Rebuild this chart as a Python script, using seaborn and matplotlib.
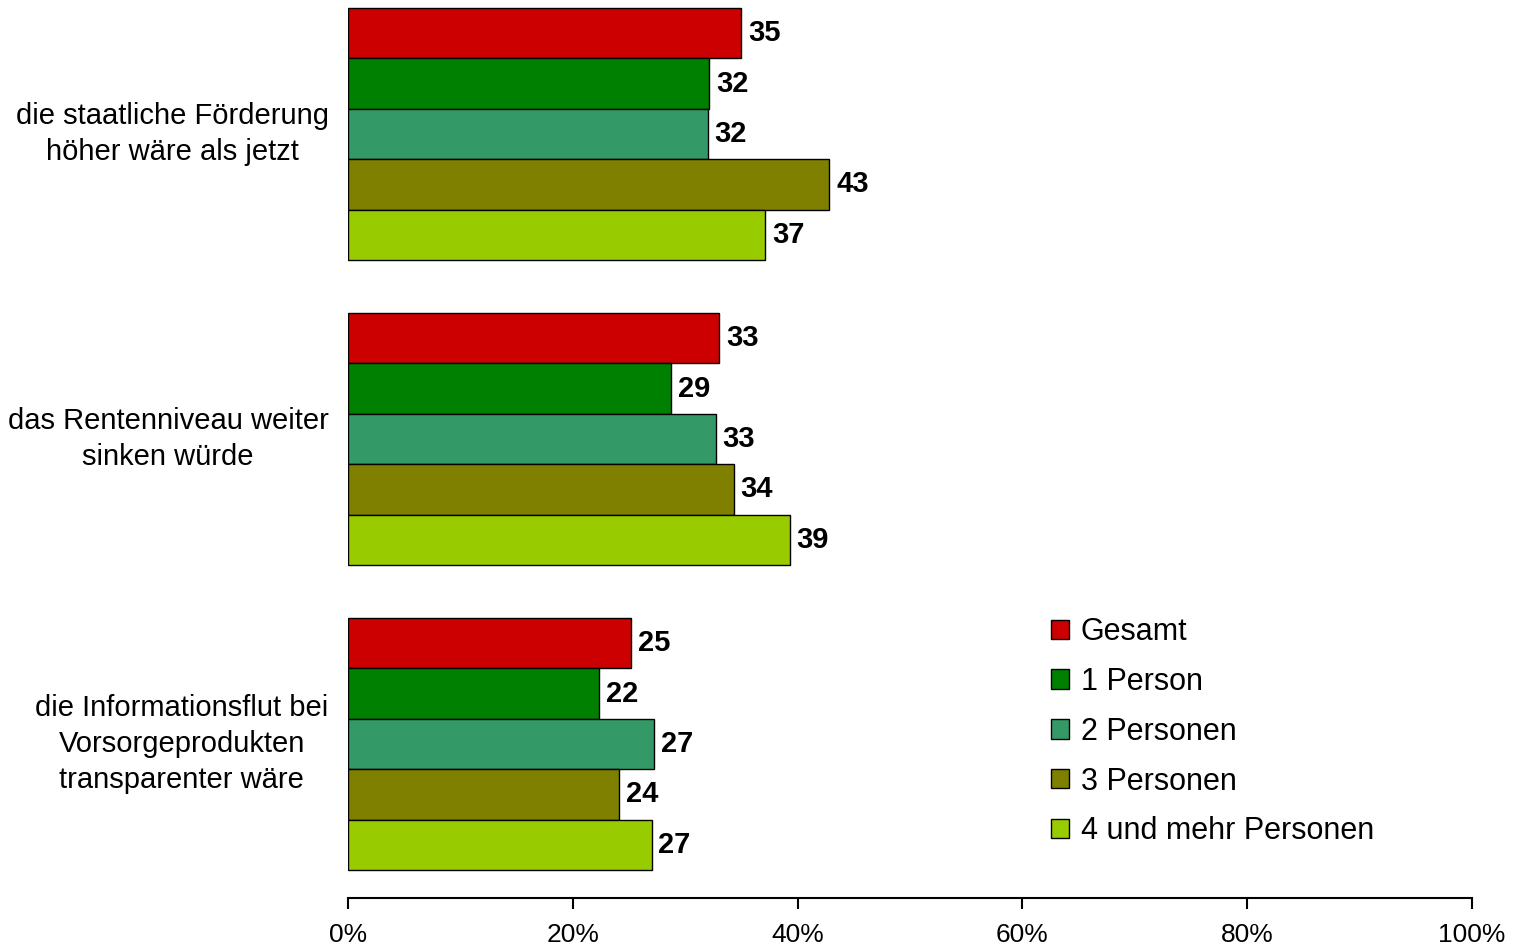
import numpy as np
import pandas as pd
import seaborn as sns
import matplotlib
matplotlib.use("Agg")
import matplotlib.pyplot as plt

# data (bar lengths in %)
categories = ["die staatliche Förderung\nhöher wäre als jetzt",
              "das Rentenniveau weiter\nsinken würde",
              "die Informationsflut bei\nVorsorgeprodukten\ntransparenter wäre"]
groups = ["Gesamt", "1 Person", "2 Personen", "3 Personen", "4 und mehr Personen"]
gesamt = [35.0, 33.0, 25.2]
person1 = [32.1, 28.7, 22.3]
person2 = [32.0, 32.7, 27.2]
person3 = [42.8, 34.3, 24.1]
person4 = [37.1, 39.3, 27.0]
colors = ["#CC0000", "#008000", "#339966", "#808000", "#99CC00"]
xticks = [0, 20, 40, 60, 80, 100]

rows = []
for g, vals in zip(groups, [gesamt, person1, person2, person3, person4]):
    for c, v in zip(categories, vals):
        rows.append({"cat": c, "grp": g, "val": v})
df = pd.DataFrame(rows)

sns.set_style("white")
plt.rcParams["font.family"] = ["Liberation Sans", "DejaVu Sans"]
plt.rcParams["text.color"] = "black"
plt.rcParams["xtick.color"] = "black"
plt.rcParams["ytick.color"] = "black"

fig = plt.figure(figsize=(15.13, 9.49), dpi=100)
ax = fig.add_axes([0.230, 0.0537, 0.743, 0.9463])

sns.barplot(data=df, y="cat", x="val", hue="grp", order=categories, hue_order=groups,
            palette=colors, orient="h", width=0.826, edgecolor="black", linewidth=1,
            saturation=1, ax=ax)

for cont in ax.containers:
    ax.bar_label(cont, labels=[f"{v:.0f}" for v in cont.datavalues], padding=5,
                 fontsize=21, fontweight="bold", color="black")

ax.set_xlim(0, 100)
ax.set_ylim(2.505, -0.439)
ax.set_xticks(xticks)
ax.set_xticklabels([f"{t}%" for t in xticks], fontsize=19)
ax.tick_params(axis="x", bottom=True, direction="out", length=8, width=1.5,
               color="black", pad=10)
ax.tick_params(axis="y", left=False, length=0, pad=14, labelsize=21)
for lbl in ax.get_yticklabels():
    lbl.set_multialignment("center")
    lbl.set_linespacing(1.37)
    lbl.set_va("center")
ax.set_xlabel("")
ax.set_ylabel("")
for s in ["top", "right", "left"]:
    ax.spines[s].set_visible(False)
ax.spines["bottom"].set_color("black")
ax.spines["bottom"].set_linewidth(1.5)

handles, labels = ax.get_legend_handles_labels()
ax.legend(handles, labels, loc="upper left", bbox_to_anchor=(1051 / 1513, 1 - 617 / 949),
          bbox_transform=fig.transFigure, frameon=False, fontsize=22, borderpad=0,
          borderaxespad=0, handlelength=0.59, handleheight=0.59, handletextpad=0.39,
          labelspacing=0.65)

fig.savefig("out.png", dpi=100)
